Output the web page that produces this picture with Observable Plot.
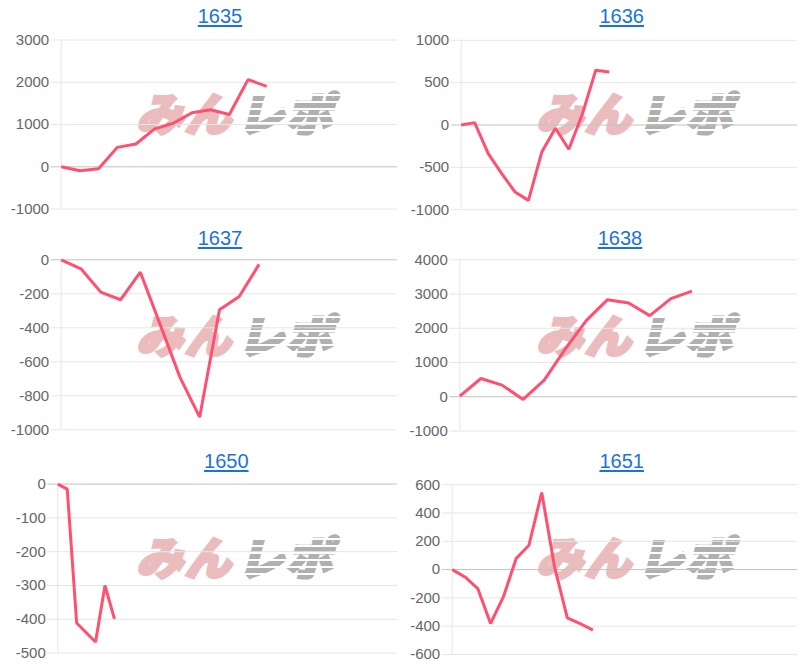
<!DOCTYPE html>
<html>
<head>
<meta charset="utf-8">
<script src="https://cdn.jsdelivr.net/npm/d3@7"></script>
<script src="https://cdn.jsdelivr.net/npm/@observablehq/plot@0.6"></script>
<style>
  html, body { margin: 0; padding: 0; background: #fff; }
  #root { position: relative; width: 800px; height: 666px; overflow: hidden; font-family: "Liberation Sans", Arial, sans-serif; }
  .title { position: absolute; transform: translate(-50%, -50%); color: #1a73d9; text-decoration: underline; text-decoration-thickness: 1.5px; text-underline-offset: 2px; font-size: 20px; line-height: 1; white-space: nowrap; }
  .wm { position: absolute; display: flex; font-family: "Noto Sans CJK JP", sans-serif; font-weight: 900; font-size: 45px; line-height: 1; transform-origin: 0 0; transform: scaleX(1.03) skewX(-14deg); white-space: nowrap; }
  .wm .mi { color: #ebbcbe; -webkit-text-stroke: 3px #ebbcbe; letter-spacing: 2px; }
  .wm .re { position: relative; color: #b0b0b0; -webkit-text-stroke: 3px #b0b0b0; margin-left: 4px; letter-spacing: 2px; }
  .wm .re .stripes { position: absolute; left: -4px; right: -4px; top: 0; bottom: 0; background: repeating-linear-gradient(180deg, rgba(255,255,255,0) 0 5px, #fff 5px 7px); }
  .chart { position: absolute; }
  .chart svg { background: transparent !important; overflow: visible; }
</style>
</head>
<body>
<div id="root"></div>
<script>
// ---- data ----
const titles = ["1635", "1636", "1637", "1638", "1650", "1651"];
const slots = [19, 26, 18, 17, 37, 28];

const values1635 = [0, -95, -48, 460, 540, 897, 1032, 1278, 1349, 1238, 2063, 1905];
const values1636 = [0, 28, -335, -571, -791, -890, -315, -39, -287, 126, 646, 626];
const values1637 = [0, -53, -190, -235, -73, -380, -690, -925, -294, -216, -27];
const values1638 = [19, 534, 340, -78, 485, 1400, 2233, 2835, 2738, 2369, 2864, 3087];
const values1650 = [0, -15, -411, -439, -467, -300, -399];
const values1651 = [0, -52, -134, -381, -193, 78, 172, 545, 20, -341, -381, -428];

const ticks1635 = [-1000, 0, 1000, 2000, 3000];
const ticks1636 = [-1000, -500, 0, 500, 1000];
const ticks1637 = [-1000, -800, -600, -400, -200, 0];
const ticks1638 = [-1000, 0, 1000, 2000, 3000, 4000];
const ticks1650 = [-500, -400, -300, -200, -100, 0];
const ticks1651 = [-600, -400, -200, 0, 200, 400, 600];

const seriesValues = [values1635, values1636, values1637, values1638, values1650, values1651];
const seriesTicks = [ticks1635, ticks1636, ticks1637, ticks1638, ticks1650, ticks1651];

// ---- layout (positions only) ----
const panelLeft = [0, 400, 0, 400, 0, 400];
const panelTop = [0, 0, 222, 222, 444, 444];
const frameTop = [39.5, 39.8, 37.3, 37.3, 39.6, 40.2];
const frameBottom = [208.6, 209.2, 207.3, 208.5, 208.6, 210];
const marginLeftArr = [60.7, 60.7, 60.7, 59.3, 57.3, 51.7];
const titleX = [220, 621.7, 220, 620, 226.3, 621.7];
const titleY = [15.5, 15.5, 15.5, 15.5, 16.5, 16.5];

const root = document.getElementById("root");
const lineColor = "#ff5070";
const gridColor = "#e6e6e6";
const zeroColor = "#c2c2c2";

titles.forEach((t, k) => {
  const L = panelLeft[k], T = panelTop[k];
  const vals = seriesValues[k];
  const ticks = seriesTicks[k];
  const nonzero = ticks.filter(v => v !== 0);

  // watermark
  const wm = document.createElement("div");
  wm.className = "wm";
  wm.style.left = (L + 147) + "px";
  wm.style.top = (T + 89) + "px";
  wm.innerHTML = '<span class="mi">みん</span><span class="re">レポ<span class="stripes"></span></span>';
  root.appendChild(wm);

  const chart = Plot.plot({
    width: 400,
    height: 222,
    marginTop: frameTop[k],
    marginBottom: 222 - frameBottom[k],
    marginLeft: marginLeftArr[k],
    marginRight: 3,
    style: { background: "transparent", fontFamily: "'Liberation Sans', Arial, sans-serif", overflow: "visible" },
    x: { domain: [0, slots[k] - 1], axis: null },
    y: { domain: d3.extent(ticks), axis: null },
    marks: [
      Plot.ruleY(nonzero, { stroke: gridColor, strokeWidth: 1 }),
      Plot.ruleX([0], { stroke: gridColor, strokeWidth: 1 }),
      Plot.ruleY([0], { stroke: zeroColor, strokeWidth: 1 }),
      Plot.axisY(nonzero, { tickSize: 10, tickPadding: 2, stroke: gridColor, fill: "#666", fontSize: 15, label: null, tickFormat: d => String(d) }),
      Plot.axisY([0], { tickSize: 10, tickPadding: 2, stroke: zeroColor, fill: "#666", fontSize: 15, label: null, tickFormat: d => String(d) }),
      Plot.line(vals, { x: (d, i) => i, y: d => d, stroke: lineColor, strokeWidth: 3, strokeLinejoin: "miter", strokeLinecap: "butt" })
    ]
  });
  const wrap = document.createElement("div");
  wrap.className = "chart";
  wrap.style.left = L + "px";
  wrap.style.top = T + "px";
  wrap.appendChild(chart);
  root.appendChild(wrap);

  const title = document.createElement("div");
  title.className = "title";
  title.textContent = t;
  title.style.left = titleX[k] + "px";
  title.style.top = (T + titleY[k]) + "px";
  root.appendChild(title);
});
</script>
</body>
</html>
